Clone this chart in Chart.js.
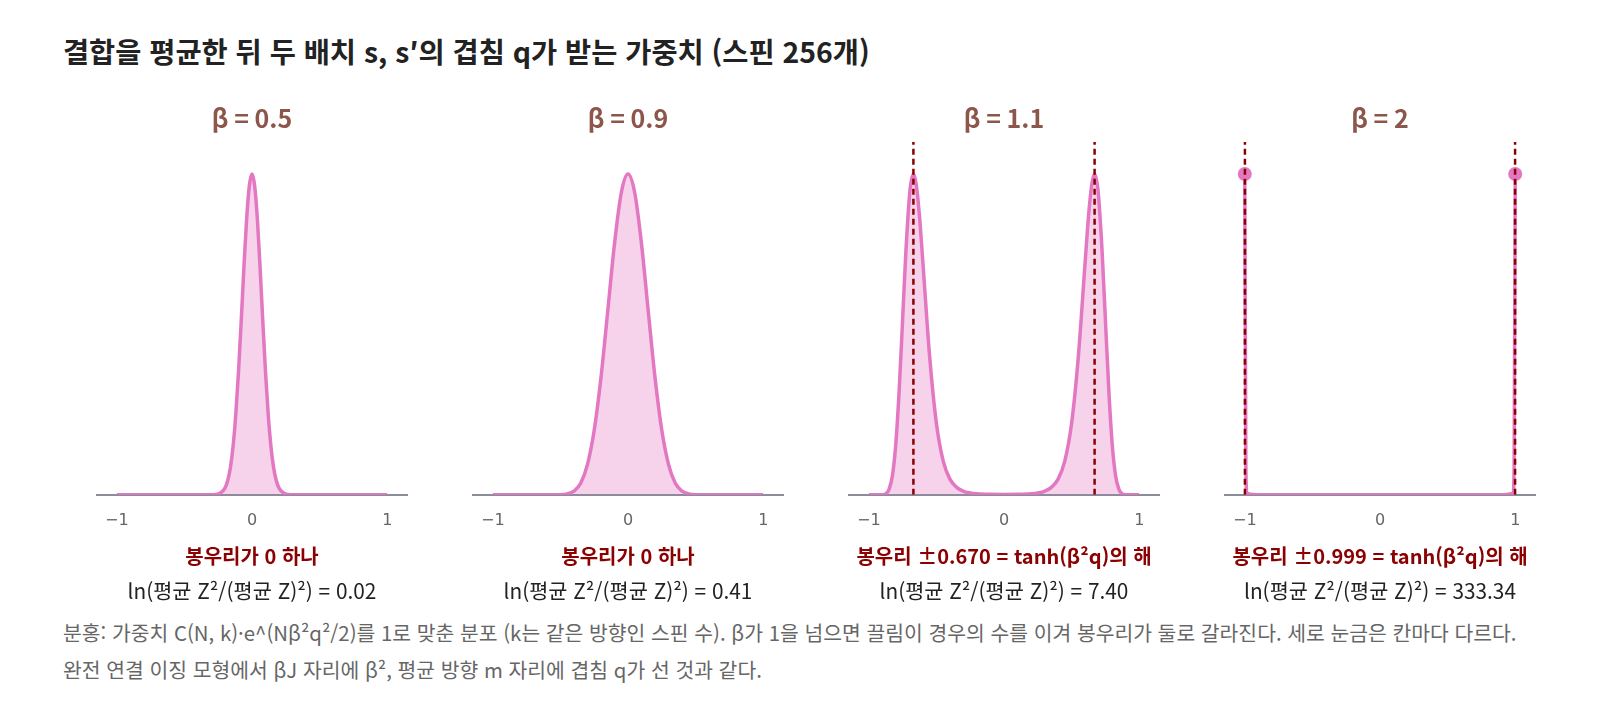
<!DOCTYPE html>
<html lang="ko">
<head>
<meta charset="utf-8">
<script src="https://cdn.jsdelivr.net/npm/chart.js@4.4.1/dist/chart.umd.min.js"></script>
<style>
    body { margin: 0; background: #fff; font-family: "Noto Sans CJK KR", "Noto Sans", sans-serif; color: #222; }
    #page { position: relative; width: 1600px; height: 704px; overflow: hidden; }
    #title { position: absolute; left: 63px; top: 34px; font-size: 28.4px; font-weight: 700; line-height: 34px; white-space: nowrap; }
    .panel { position: absolute; top: 100px; width: 376px; }
    .panel canvas { display: block; }
    .note, .ratio { position: absolute; width: 376px; text-align: center; line-height: 24px; white-space: nowrap; }
    .note { top: 544px; color: #8b0000; font-weight: 700; font-size: 20px; }
    .ratio { top: 578px; color: #222; font-size: 20.8px; }
    #foot { position: absolute; left: 63px; top: 614px; color: #666; font-size: 20.4px; line-height: 37px; white-space: nowrap; }
</style>
</head>
<body>
<div id="page">
    <div id="title">결합을 평균한 뒤 두 배치 s, s′의 겹침 q가 받는 가중치 (스핀 256개)</div>
    <div id="panels"></div>
    <div id="foot">
        <div>분홍: 가중치 C(N, k)·e^(Nβ²q²/2)를 1로 맞춘 분포 (k는 같은 방향인 스핀 수). β가 1을 넘으면 끌림이 경우의 수를 이겨 봉우리가 둘로 갈라진다. 세로 눈금은 칸마다 다르다.</div>
        <div>완전 연결 이징 모형에서 βJ 자리에 β², 평균 방향 m 자리에 겹침 q가 선 것과 같다.</div>
    </div>
</div>
<script>
// values (weight normalised so the top is 1)
const panelTitles = ["β = 0.5", "β = 0.9", "β = 1.1", "β = 2"];
const peakNotes = ["봉우리가 0 하나", "봉우리가 0 하나", "봉우리 ±0.670 = tanh(β²q)의 해", "봉우리 ±0.999 = tanh(β²q)의 해"];
const lnRatios = ["0.02", "0.41", "7.40", "333.34"];
const xTicks = [-1, 0, 1];

const qBeta05 = [-1, -0.6, -0.4, -0.32, -0.28, -0.24, -0.2, -0.18, -0.16, -0.14, -0.12, -0.1, -0.08, -0.06, -0.04, -0.02, 0,
    0.02, 0.04, 0.06, 0.08, 0.1, 0.12, 0.14, 0.16, 0.18, 0.2, 0.24, 0.28, 0.32, 0.4, 0.6, 1];
const wBeta05 = [0, 0, 0, 0, 0.0005, 0.0037, 0.021, 0.044, 0.084, 0.151, 0.25, 0.382, 0.54, 0.707, 0.858, 0.962, 1,
    0.962, 0.858, 0.707, 0.54, 0.382, 0.25, 0.151, 0.084, 0.044, 0.021, 0.0037, 0.0005, 0, 0, 0, 0];

const qBeta09 = [-1, -0.7, -0.6, -0.5, -0.45, -0.4, -0.35, -0.3, -0.25, -0.2, -0.15, -0.1, -0.05, 0,
    0.05, 0.1, 0.15, 0.2, 0.25, 0.3, 0.35, 0.4, 0.45, 0.5, 0.6, 0.7, 1];
const wBeta09 = [0, 0, 0, 0.0005, 0.0028, 0.0114, 0.036, 0.094, 0.201, 0.365, 0.572, 0.782, 0.941, 1,
    0.941, 0.782, 0.572, 0.365, 0.201, 0.094, 0.036, 0.0114, 0.0028, 0.0005, 0, 0, 0];

const qBeta11 = [-1, -0.95, -0.9, -0.875, -0.85, -0.825, -0.8, -0.775, -0.75, -0.725, -0.7, -0.69, -0.67, -0.65, -0.625, -0.6,
    -0.55, -0.5, -0.45, -0.4, -0.35, -0.3, -0.25, -0.2, -0.1, 0,
    0.1, 0.2, 0.25, 0.3, 0.35, 0.4, 0.45, 0.5, 0.55,
    0.6, 0.625, 0.65, 0.67, 0.69, 0.7, 0.725, 0.75, 0.775, 0.8, 0.825, 0.85, 0.875, 0.9, 0.95, 1];
const wBeta11 = [0, 0, 0.0004, 0.003, 0.017, 0.06, 0.159, 0.327, 0.545, 0.763, 0.927, 0.968, 1, 0.97, 0.869, 0.725,
    0.432, 0.223, 0.106, 0.049, 0.023, 0.011, 0.0059, 0.0034, 0.0016, 0.0012,
    0.0016, 0.0034, 0.0059, 0.011, 0.023, 0.049, 0.106, 0.223, 0.432,
    0.725, 0.869, 0.97, 1, 0.968, 0.927, 0.763, 0.545, 0.327, 0.159, 0.06, 0.017, 0.003, 0.0004, 0, 0];

const qBeta2 = [-1, -0.992, -0.984, -0.9, 0, 0.9, 0.984, 0.992, 1];
const wBeta2 = [1, 0.089, 0.004, 0, 0, 0, 0.004, 0.089, 1];

const qSeries = [qBeta05, qBeta09, qBeta11, qBeta2];
const wSeries = [wBeta05, wBeta09, wBeta11, wBeta2];
const peakLines = [[], [], [-0.670, 0.670], [-0.999, 0.999]];
const peakDots = [[], [], [], [-1, 1]];

const PINK = "#e377c2";
const DARK_RED = "#8b0000";
const FONT = "'Noto Sans CJK KR', 'Noto Sans', sans-serif";
const PANEL_W = 376;
const PANEL_H = 457;

function renderPanel(canvas, i) {
    const curve = qSeries[i].map((q, j) => ({ x: q, y: wSeries[i][j] }));
    const datasets = [
        {
            data: curve,
            borderColor: PINK,
            backgroundColor: "rgba(227, 119, 194, 0.33)",
            borderWidth: 3.5,
            fill: "origin",
            pointRadius: 0,
            cubicInterpolationMode: "monotone",
            order: 2
        }
    ];
    if (peakDots[i].length) {
        datasets.push({
            data: peakDots[i].map((q) => ({ x: q, y: 1 })),
            showLine: false,
            pointRadius: 7,
            pointBackgroundColor: PINK,
            pointBorderWidth: 0,
            order: 1
        });
    }
    peakLines[i].forEach((q) => {
        datasets.push({
            data: [{ x: q, y: 0 }, { x: q, y: 1.1 }],
            borderColor: DARK_RED,
            borderWidth: 2.5,
            borderDash: [6, 4],
            pointRadius: 0,
            fill: false,
            order: 0
        });
    });

    return new Chart(canvas, {
        type: "line",
        data: { datasets },
        options: {
            responsive: false,
            animation: false,
            layout: {
                padding: { left: 32.5, right: 32.5, top: 0, bottom: 11 }
            },
            plugins: {
                legend: { display: false },
                tooltip: { enabled: false },
                title: {
                    display: true,
                    text: panelTitles[i],
                    color: "#8c564b",
                    font: { family: FONT, size: 25, weight: "bold" },
                    padding: { top: 3, bottom: 9 }
                }
            },
            scales: {
                x: {
                    type: "linear",
                    min: -1.15,
                    max: 1.15,
                    afterBuildTicks: (axis) => {
                        axis.ticks = xTicks.map((v) => ({ value: v }));
                    },
                    grid: { display: false, drawTicks: false },
                    border: { display: true, color: "#8a8d99", width: 2 },
                    ticks: {
                        padding: 16,
                        color: "#666",
                        font: { family: "'DejaVu Sans', sans-serif", size: 16 },
                        callback: (value) => value < 0 ? "\u2212" + Math.abs(value) : String(value)
                    }
                },
                y: {
                    min: 0,
                    max: 1.1,
                    display: false
                }
            }
        }
    });
}

const holder = document.getElementById("panels");
panelTitles.forEach((t, i) => {
    const left = 64 + i * PANEL_W;
    const panel = document.createElement("div");
    panel.className = "panel";
    panel.style.left = left + "px";
    const canvas = document.createElement("canvas");
    canvas.width = PANEL_W;
    canvas.height = PANEL_H;
    canvas.style.width = PANEL_W + "px";
    canvas.style.height = PANEL_H + "px";
    panel.appendChild(canvas);
    holder.appendChild(panel);

    const note = document.createElement("div");
    note.className = "note";
    note.style.left = left + "px";
    note.textContent = peakNotes[i];
    holder.appendChild(note);
    const ratio = document.createElement("div");
    ratio.className = "ratio";
    ratio.style.left = left + "px";
    ratio.textContent = "ln(평균 Z²/(평균 Z)²) = " + lnRatios[i];
    holder.appendChild(ratio);

    renderPanel(canvas, i);
});
</script>
</body>
</html>
